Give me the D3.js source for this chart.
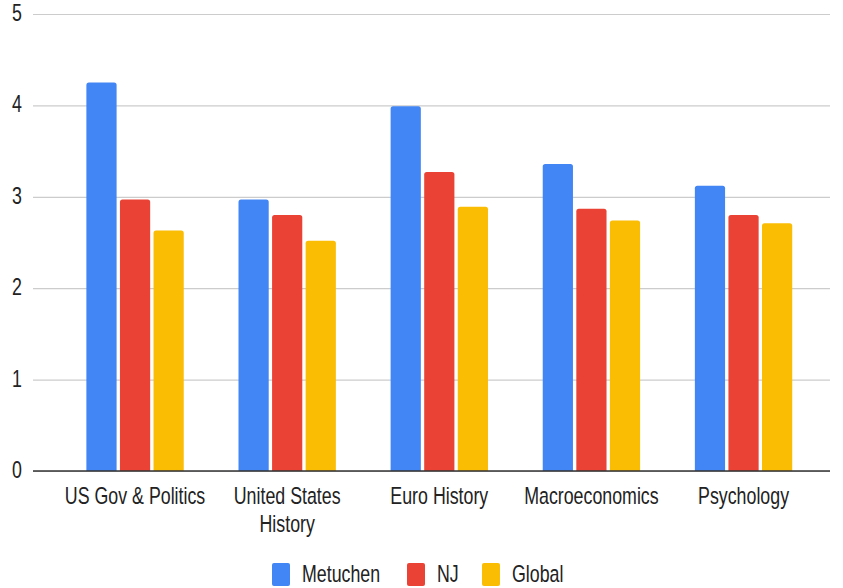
<!DOCTYPE html>
<html>
<head>
<meta charset="utf-8">
<script src="https://cdn.jsdelivr.net/npm/d3@7"></script>
<style>
  html, body { margin: 0; padding: 0; background: #fff; }
  svg { display: block; font-family: "Liberation Sans", Arial, sans-serif; }
</style>
</head>
<body>
<svg id="chart" width="843" height="588"></svg>
<script>
const categories = ["US Gov & Politics", "United States History", "Euro History", "Macroeconomics", "Psychology"];
const categoryLines = [["US Gov & Politics"], ["United States", "History"], ["Euro History"], ["Macroeconomics"], ["Psychology"]];
const seriesNames = ["Metuchen", "NJ", "Global"];
const metuchen = [4.25, 2.97, 3.99, 3.36, 3.12];
const nj = [2.97, 2.80, 3.27, 2.87, 2.80];
const global = [2.63, 2.52, 2.89, 2.74, 2.71];
const yTicks = [0, 1, 2, 3, 4, 5];
const colors = ["#4285F4", "#EA4335", "#FBBC04"];

const seriesValues = [metuchen, nj, global];
const rows = categories.map((c, i) => ({ cat: c, vals: seriesNames.map((s, j) => ({ s, v: seriesValues[j][i] })) }));

const svg = d3.select("#chart");
const SY = 1.33;
const FS = 17.8;

const x = d3.scaleBand().domain(categories).range([59, 819.6]).paddingInner(0.36).paddingOuter(0.18);
const xs = d3.scaleBand().domain(seriesNames).range([0, x.bandwidth()]).paddingInner(0.1);
const y = d3.scaleLinear().domain([0, 5]).range([471, 14]);

// grid + y axis
const yAxis = d3.axisLeft(y).tickValues(yTicks).tickSize(-(830 - 33)).tickPadding(11).tickFormat(d3.format("d"));
const gy = svg.append("g").attr("transform", "translate(33,0)").call(yAxis);
gy.select(".domain").remove();
gy.selectAll(".tick line").attr("stroke", "#cccccc").attr("stroke-width", 1.2);
gy.selectAll(".tick text")
  .attr("fill", "#222")
  .style("font-size", FS + "px")
  .attr("dy", null)
  .attr("y", null)
  .attr("transform", `translate(0,6.5) scale(1,${SY})`);

// bars with rounded top corners
function topRounded(x0, y0, w, h, r) {
  r = Math.min(r, h, w / 2);
  return `M${x0},${y0 + h}V${y0 + r}Q${x0},${y0} ${x0 + r},${y0}H${x0 + w - r}Q${x0 + w},${y0} ${x0 + w},${y0 + r}V${y0 + h}Z`;
}
const groups = svg.append("g").selectAll("g").data(rows).join("g")
  .attr("transform", d => `translate(${x(d.cat)},0)`);
groups.selectAll("path").data(d => d.vals).join("path")
  .attr("fill", (d, i) => colors[i])
  .attr("d", d => topRounded(xs(d.s), y(d.v), xs.bandwidth(), y(0) - y(d.v), 2.5));

// baseline
svg.append("line").attr("x1", 33).attr("x2", 830).attr("y1", y(0)).attr("y2", y(0))
  .attr("stroke", "#333").attr("stroke-width", 1.5);

// category labels
const labG = svg.append("g");
categories.forEach((c, i) => {
  const cx = x(c) + x.bandwidth() / 2;
  categoryLines[i].forEach((line, k) => {
    labG.append("text")
      .attr("transform", `translate(${cx},${504 + k * 28}) scale(1,${SY})`)
      .attr("text-anchor", "middle")
      .attr("fill", "#222")
      .style("font-size", FS + "px")
      .text(line);
  });
});

// legend
const legendX = [272, 407, 482];
const leg = svg.append("g");
seriesNames.forEach((s, i) => {
  leg.append("rect").attr("x", legendX[i]).attr("y", 563).attr("width", 18).attr("height", 23)
    .attr("rx", 2).attr("fill", colors[i]);
  leg.append("text")
    .attr("transform", `translate(${legendX[i] + 30},582) scale(1,${SY})`)
    .attr("fill", "#222")
    .style("font-size", FS + "px")
    .text(s);
});
</script>
</body>
</html>
